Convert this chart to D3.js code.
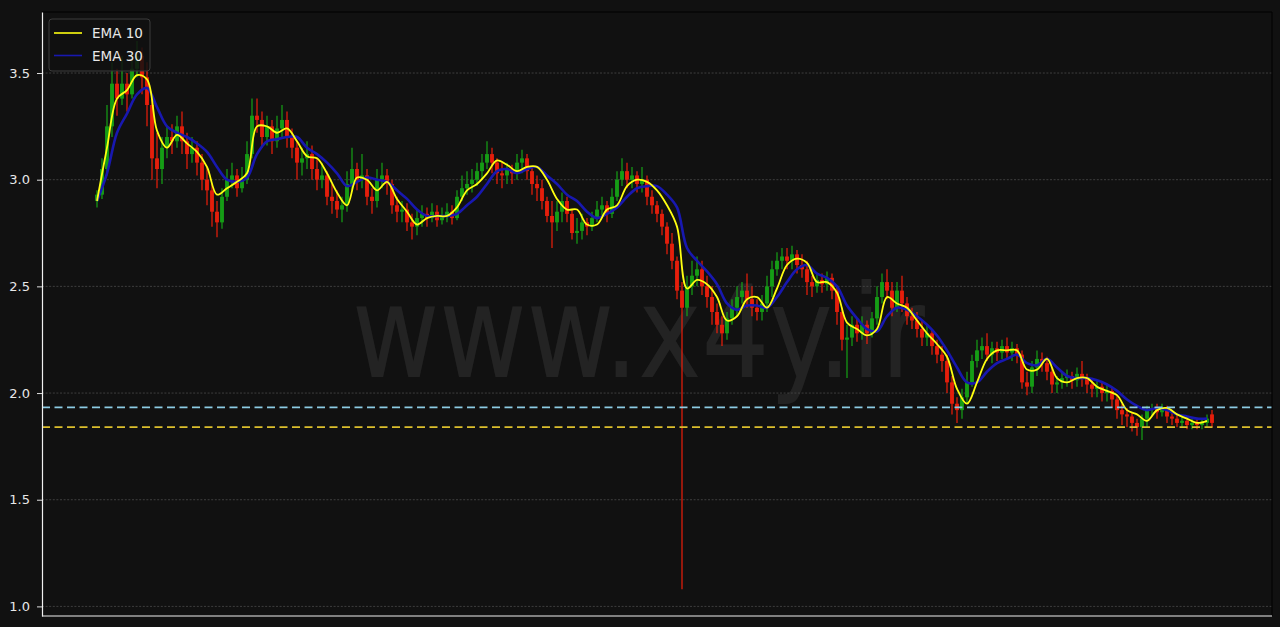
<!DOCTYPE html>
<html><head><meta charset="utf-8">
<script src="https://cdn.jsdelivr.net/npm/d3@7"></script>
<style>html,body{margin:0;padding:0;background:#111;} svg{display:block}</style>
</head><body><div id="chart"></div>
<script>
// ---- data ----
const opens=[2.90,2.93,3.05,3.25,3.45,3.38,3.45,3.40,3.52,3.58,
3.48,3.35,3.10,3.05,3.15,3.20,3.18,3.25,3.18,3.12,
3.15,3.08,3.00,2.95,2.85,2.80,2.92,3.00,3.02,2.96,
3.00,3.12,3.30,3.28,3.20,3.25,3.18,3.24,3.28,3.20,
3.15,3.08,3.10,3.12,3.05,3.00,3.02,2.92,2.90,2.86,
2.88,2.98,3.05,3.00,3.02,2.92,2.90,3.00,3.02,2.98,
2.88,2.85,2.86,2.80,2.78,2.82,2.84,2.82,2.85,2.81,
2.83,2.85,2.82,2.92,2.96,2.98,3.00,3.04,3.08,3.12,
3.08,3.03,3.02,3.05,3.03,3.08,3.10,3.04,2.98,2.96,
2.90,2.83,2.80,2.85,2.90,2.84,2.75,2.76,2.80,2.78,
2.82,2.86,2.88,2.84,2.92,3.00,3.04,3.00,3.02,2.98,
3.00,2.92,2.88,2.84,2.78,2.70,2.62,2.48,2.40,2.50,
2.55,2.58,2.50,2.45,2.38,2.32,2.28,2.35,2.40,2.45,
2.48,2.44,2.40,2.38,2.42,2.50,2.58,2.62,2.64,2.62,
2.65,2.60,2.58,2.52,2.50,2.53,2.51,2.54,2.48,2.38,
2.25,2.26,2.32,2.28,2.32,2.28,2.35,2.45,2.52,2.48,
2.40,2.48,2.42,2.36,2.34,2.30,2.26,2.28,2.22,2.18,
2.15,2.05,1.95,1.92,1.98,2.05,2.15,2.20,2.22,2.18,
2.21,2.19,2.22,2.19,2.21,2.18,2.05,2.03,2.12,2.16,
2.14,2.10,2.04,2.05,2.07,2.08,2.06,2.09,2.07,2.04,
2.02,2.03,2.00,2.01,1.97,1.92,1.90,1.89,1.86,1.84,
1.88,1.92,1.93,1.91,1.93,1.89,1.88,1.86,1.87,1.85,
1.86,1.85,1.86,1.90];
const highs=[2.95,3.10,3.35,3.55,3.52,3.58,3.50,3.60,3.65,3.62,
3.55,3.38,3.22,3.20,3.25,3.26,3.30,3.32,3.22,3.20,
3.18,3.12,3.06,2.98,2.90,2.96,3.05,3.08,3.05,3.06,
3.18,3.38,3.38,3.32,3.30,3.28,3.30,3.35,3.32,3.24,
3.18,3.15,3.18,3.16,3.10,3.08,3.04,2.98,2.95,2.92,
3.04,3.15,3.08,3.12,3.05,2.96,3.05,3.08,3.05,3.00,
2.92,2.90,2.89,2.84,2.86,2.88,2.87,2.89,2.88,2.87,
2.89,2.88,2.95,3.02,3.04,3.05,3.08,3.12,3.18,3.15,
3.10,3.08,3.08,3.07,3.12,3.14,3.12,3.06,3.02,3.00,
2.92,2.90,2.90,2.94,2.92,2.86,2.82,2.84,2.82,2.85,
2.90,2.92,2.90,2.96,3.04,3.10,3.08,3.06,3.04,3.06,
3.02,2.95,2.90,2.86,2.80,2.75,2.64,2.52,2.55,2.62,
2.64,2.62,2.55,2.50,2.42,2.36,2.38,2.44,2.50,2.52,
2.56,2.50,2.44,2.46,2.55,2.62,2.66,2.68,2.68,2.69,
2.67,2.65,2.62,2.55,2.56,2.56,2.57,2.56,2.50,2.40,
2.32,2.36,2.35,2.36,2.34,2.38,2.50,2.56,2.58,2.52,
2.52,2.55,2.45,2.40,2.38,2.34,2.32,2.30,2.25,2.22,
2.18,2.08,1.98,2.02,2.10,2.18,2.25,2.26,2.28,2.24,
2.24,2.25,2.26,2.24,2.23,2.20,2.10,2.15,2.20,2.19,
2.17,2.12,2.08,2.10,2.11,2.10,2.12,2.15,2.09,2.06,
2.06,2.05,2.04,2.03,1.99,1.95,1.93,1.91,1.88,1.90,
1.94,1.95,1.95,1.95,1.94,1.91,1.90,1.89,1.89,1.88,
1.88,1.88,1.90,1.92];
const lows=[2.87,2.91,3.02,3.20,3.30,3.35,3.32,3.38,3.48,3.40,
3.25,3.00,2.96,2.98,3.10,3.12,3.15,3.12,3.05,3.08,
3.02,2.95,2.88,2.78,2.73,2.77,2.90,2.96,2.92,2.94,
2.98,3.10,3.22,3.15,3.16,3.12,3.15,3.20,3.15,3.10,
3.00,3.02,3.05,3.00,2.95,2.96,2.88,2.84,2.82,2.80,
2.85,2.95,2.95,2.96,2.88,2.84,2.87,2.96,2.93,2.84,
2.80,2.80,2.76,2.72,2.74,2.78,2.78,2.80,2.78,2.79,
2.80,2.79,2.81,2.90,2.93,2.94,2.97,3.00,3.05,3.03,
2.98,2.96,2.98,2.98,3.00,3.03,3.00,2.93,2.90,2.86,
2.80,2.68,2.76,2.80,2.80,2.72,2.70,2.72,2.74,2.76,
2.80,2.83,2.80,2.82,2.90,2.97,2.96,2.96,2.94,2.94,
2.88,2.84,2.80,2.74,2.65,2.58,2.44,1.08,2.36,2.46,
2.50,2.46,2.40,2.32,2.28,2.22,2.25,2.32,2.36,2.42,
2.40,2.36,2.34,2.34,2.38,2.45,2.55,2.58,2.58,2.58,
2.56,2.54,2.46,2.45,2.47,2.47,2.48,2.44,2.32,2.20,
2.07,2.22,2.24,2.25,2.23,2.26,2.32,2.42,2.44,2.36,
2.38,2.38,2.32,2.30,2.26,2.22,2.22,2.18,2.14,2.10,
2.00,1.90,1.86,1.88,1.95,2.03,2.12,2.16,2.15,2.14,
2.15,2.16,2.16,2.15,2.14,2.02,1.99,2.00,2.08,2.10,
2.06,2.00,2.00,2.02,2.03,2.02,2.03,2.03,2.00,1.98,
1.98,1.96,1.96,1.93,1.88,1.85,1.84,1.82,1.80,1.78,
1.84,1.89,1.88,1.89,1.86,1.85,1.84,1.84,1.83,1.83,
1.83,1.83,1.84,1.84];
const closes=[2.93,3.05,3.25,3.45,3.38,3.45,3.40,3.52,3.58,3.48,
3.35,3.10,3.05,3.15,3.20,3.18,3.25,3.18,3.12,3.15,
3.08,3.00,2.95,2.85,2.80,2.92,3.00,3.02,2.96,3.00,
3.12,3.30,3.28,3.20,3.25,3.18,3.24,3.28,3.20,3.15,
3.08,3.10,3.12,3.05,3.00,3.02,2.92,2.90,2.86,2.88,
2.98,3.05,3.00,3.02,2.92,2.90,3.00,3.02,2.98,2.88,
2.85,2.86,2.80,2.78,2.82,2.84,2.82,2.85,2.81,2.83,
2.85,2.82,2.92,2.96,2.98,3.00,3.04,3.08,3.12,3.08,
3.03,3.02,3.05,3.03,3.08,3.10,3.04,2.98,2.96,2.90,
2.83,2.80,2.85,2.90,2.84,2.75,2.76,2.80,2.78,2.82,
2.86,2.88,2.84,2.92,3.00,3.04,3.00,3.02,2.98,3.00,
2.92,2.88,2.84,2.78,2.70,2.62,2.48,2.40,2.50,2.55,
2.58,2.50,2.45,2.38,2.32,2.28,2.35,2.40,2.45,2.48,
2.44,2.40,2.38,2.42,2.50,2.58,2.62,2.64,2.62,2.65,
2.60,2.58,2.52,2.50,2.53,2.51,2.54,2.48,2.38,2.25,
2.26,2.32,2.28,2.32,2.28,2.35,2.45,2.52,2.48,2.40,
2.48,2.42,2.36,2.34,2.30,2.26,2.28,2.22,2.18,2.15,
2.05,1.95,1.92,1.98,2.05,2.15,2.20,2.22,2.18,2.21,
2.19,2.22,2.19,2.21,2.18,2.05,2.03,2.12,2.16,2.14,
2.10,2.04,2.05,2.07,2.08,2.06,2.09,2.07,2.04,2.02,
2.03,2.00,2.01,1.97,1.92,1.90,1.89,1.86,1.84,1.88,
1.92,1.93,1.91,1.93,1.89,1.88,1.86,1.87,1.85,1.86,
1.85,1.86,1.88,1.86];
// EMA lines, sampled at every second candle (candle index = 2*k)
const ema10=[2.90,3.15,3.38,3.42,3.49,3.47,3.23,3.15,3.21,3.17,
3.13,3.06,2.93,2.96,2.99,3.03,3.25,3.25,3.22,3.24,
3.18,3.11,3.10,3.03,2.94,2.88,3.01,3.00,2.95,2.99,
2.91,2.85,2.79,2.82,2.83,2.83,2.87,2.95,2.98,3.03,
3.09,3.07,3.04,3.06,3.06,3.00,2.91,2.86,2.86,2.79,
2.79,2.86,2.88,2.97,3.00,2.99,2.95,2.88,2.78,2.49,
2.53,2.51,2.45,2.34,2.36,2.44,2.45,2.40,2.49,2.60,
2.63,2.61,2.52,2.52,2.47,2.33,2.30,2.27,2.30,2.45,
2.42,2.40,2.34,2.28,2.23,2.17,2.02,1.95,2.05,2.16,
2.20,2.20,2.20,2.11,2.11,2.16,2.07,2.05,2.07,2.07,
2.03,2.01,1.99,1.92,1.90,1.87,1.92,1.93,1.90,1.88,
1.86,1.87];
const ema30=[2.90,3.03,3.22,3.31,3.40,3.43,3.34,3.25,3.22,3.20,
3.17,3.13,3.06,3.00,2.99,3.01,3.12,3.18,3.19,3.20,
3.20,3.15,3.12,3.08,3.03,2.97,2.99,3.01,3.00,2.99,
2.95,2.91,2.86,2.83,2.83,2.83,2.84,2.88,2.92,2.98,
3.04,3.05,3.03,3.05,3.06,3.02,2.98,2.93,2.90,2.85,
2.82,2.84,2.87,2.92,2.96,2.97,2.97,2.93,2.87,2.68,
2.62,2.57,2.51,2.42,2.39,2.41,2.41,2.40,2.45,2.52,
2.58,2.60,2.56,2.54,2.50,2.41,2.35,2.30,2.29,2.36,
2.40,2.39,2.36,2.32,2.27,2.20,2.12,2.05,2.05,2.10,
2.14,2.16,2.18,2.14,2.13,2.16,2.12,2.08,2.07,2.07,
2.06,2.04,2.01,1.97,1.94,1.92,1.93,1.92,1.90,1.89,
1.88,1.88];
const levelValues=[1.933,1.84];
const levelColors=["#8ccbe4","#dcbf2c"];
const yTicks=[1.0,1.5,2.0,2.5,3.0,3.5];
const legendLabels=["EMA 10","EMA 30"];

// ---- drawing ----
const W=1280,H=627;
const L=42,R=1272,T=12,B=616;
const svg=d3.select('#chart').append('svg').attr('width',W).attr('height',H);
svg.append('rect').attr('width',W).attr('height',H).attr('fill','#111111');

const x=d3.scaleLinear().domain([-11,235]).range([L,R]);
const y=d3.scaleLinear().domain([0.955,3.786]).range([B,T]);

// watermark
svg.append('text').attr('x',352).attr('y',377)
  .attr('font-family','DejaVu Sans').attr('font-size',128)
  .attr('textLength',573).attr('lengthAdjust','spacingAndGlyphs')
  .attr('fill','#ffffff').attr('fill-opacity',0.08)
  .text('www.x4y.ir');

// grid
svg.append('g').selectAll('line').data(yTicks).join('line')
  .attr('x1',L).attr('x2',R).attr('y1',d=>y(d)).attr('y2',d=>y(d))
  .attr('stroke','#4a4a4a').attr('stroke-width',0.8).attr('stroke-dasharray','2,1.6');

// candles
const candles=d3.range(closes.length).map(i=>({i,o:opens[i],h:highs[i],l:lows[i],c:closes[i]}));
const green='#16a316', red='#ee1f0b';
const cg=svg.append('g');
cg.selectAll('line').data(candles).join('line')
  .attr('x1',d=>x(d.i)).attr('x2',d=>x(d.i))
  .attr('y1',d=>y(d.h)).attr('y2',d=>y(d.l))
  .attr('stroke',d=>d.c>=d.o?green:red).attr('stroke-width',1.2);
const bw=4;
cg.selectAll('rect').data(candles).join('rect')
  .attr('x',d=>x(d.i)-bw/2).attr('width',bw)
  .attr('y',d=>y(Math.max(d.o,d.c)))
  .attr('height',d=>Math.max(1,Math.abs(y(d.o)-y(d.c))))
  .attr('fill',d=>d.c>=d.o?green:red).attr('fill-opacity',0.9);

// EMA lines
const line=d3.line().x(d=>x(d.i)).y(d=>y(d.v)).curve(d3.curveCatmullRom.alpha(0.5));
const e30=ema30.map((v,k)=>({i:2*k,v}));
const e10=ema10.map((v,k)=>({i:2*k,v}));
svg.append('path').datum(e30).attr('d',line).attr('fill','none')
  .attr('stroke','#1818b0').attr('stroke-width',2.6).attr('stroke-linejoin','round');
svg.append('path').datum(e10).attr('d',line).attr('fill','none')
  .attr('stroke','#ffff10').attr('stroke-width',1.8).attr('stroke-linejoin','round');

// level lines
svg.append('g').selectAll('line').data(levelValues).join('line')
  .attr('x1',L).attr('x2',R).attr('y1',d=>y(d)).attr('y2',d=>y(d))
  .attr('stroke',(d,i)=>levelColors[i]).attr('stroke-width',1.8)
  .attr('stroke-dasharray','8,4.5');

// spines
svg.append('line').attr('x1',L).attr('x2',R).attr('y1',T).attr('y2',T).attr('stroke','#000').attr('stroke-width',1);
svg.append('line').attr('x1',R).attr('x2',R).attr('y1',T).attr('y2',B).attr('stroke','#000').attr('stroke-width',1);
svg.append('line').attr('x1',L).attr('x2',R).attr('y1',B).attr('y2',B).attr('stroke','#f0f0f0').attr('stroke-width',1.2);

const ax=svg.append('g').attr('transform',`translate(${L},0)`)
  .call(d3.axisLeft(y).tickValues(yTicks).tickFormat(d3.format('.1f')).tickSize(5).tickSizeOuter(0).tickPadding(7));
ax.select('.domain').attr('stroke','#f0f0f0').attr('stroke-width',1.2);
ax.selectAll('.tick line').attr('stroke','#e0e0e0');
ax.selectAll('.tick text').attr('fill','#e8e8e8').attr('font-family','DejaVu Sans').attr('font-size',13);

// legend
const lg=svg.append('g');
lg.append('rect').attr('x',49).attr('y',19).attr('width',101).attr('height',52).attr('rx',3)
  .attr('fill','#111111').attr('fill-opacity',0.85).attr('stroke','#3c3c3c');
const lc=['#ffff10','#1818b0'];
legendLabels.forEach((t,i)=>{
  lg.append('line').attr('x1',54).attr('x2',82).attr('y1',33+i*22.5).attr('y2',33+i*22.5)
    .attr('stroke',lc[i]).attr('stroke-width',1.6);
  lg.append('text').attr('x',92).attr('y',38+i*22.5).attr('fill','#e8e8e8')
    .attr('font-family','DejaVu Sans').attr('font-size',13.5).text(t);
});
</script>
</body></html>
